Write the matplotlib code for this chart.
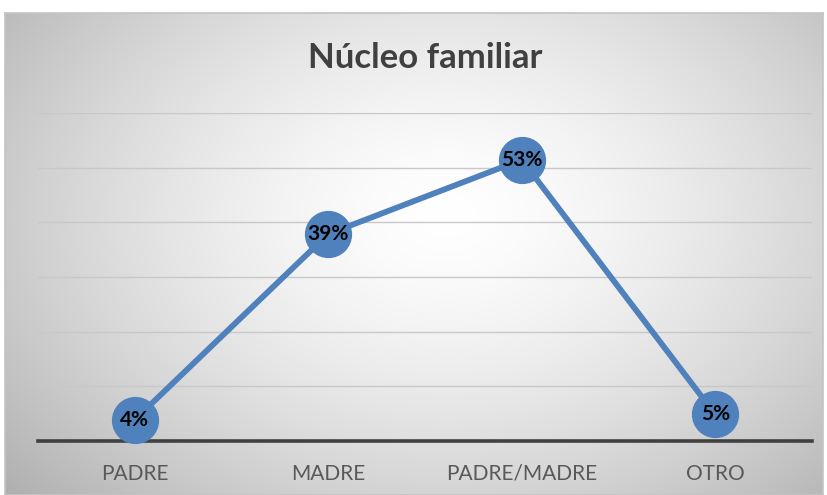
import numpy as np
import matplotlib
matplotlib.use("Agg")
import matplotlib.pyplot as plt

# data
categories = ["PADRE", "MADRE", "PADRE/MADRE", "OTRO"]
values = [4, 39, 53, 5]          # percent
labels = ["4%", "39%", "53%", "5%"]

W, H = 828, 495
fig = plt.figure(figsize=(W / 100, H / 100), dpi=100)
fig.patch.set_facecolor("white")

# chart area with radial gradient background
bg = fig.add_axes([5 / W, 0, 818 / W, (H - 13) / H])
yy, xx = np.mgrid[0:1:300j, 0:1:500j]
r = np.sqrt(((xx - 0.54) / 0.62) ** 2 + ((yy - 0.42) / 0.75) ** 2)
shade = 1.0 - 0.25 * np.clip(r, 0, 1.3) ** 1.5
img = np.dstack([shade, shade, shade])
bg.imshow(img, extent=[0, 1, 0, 1], aspect="auto", origin="upper")
bg.set_xticks([])
bg.set_yticks([])
for s in bg.spines.values():
    s.set_color("#c4c4c4")
    s.set_linewidth(1.2)

# plot area
ax = fig.add_axes([38 / W, (H - 441) / H, 774 / W, 328 / H])
ax.patch.set_alpha(0)
ymax = 61.8
x = np.arange(len(categories))
ax.set_xlim(-0.5, len(categories) - 0.5)
ax.set_ylim(0, ymax)
ax.set_yticks(np.linspace(0, ymax, 7))
ax.yaxis.grid(True, color="#c8c8c8", linewidth=1.0)
ax.set_axisbelow(True)
ax.tick_params(axis="y", left=False, labelleft=False)
ax.tick_params(axis="x", bottom=False, pad=13, labelsize=15, colors="#595959")
ax.set_xticks(x)
ax.set_xticklabels(categories, fontfamily="Lato")
for side in ["top", "right", "left"]:
    ax.spines[side].set_visible(False)
ax.spines["bottom"].set_color("#404040")
ax.spines["bottom"].set_linewidth(2.6)
ax.spines["bottom"].set_zorder(1)

ax.plot(x, values, color="#4f81bd", linewidth=4.2, marker="o",
        markersize=33, markerfacecolor="#4f81bd", markeredgecolor="#4f81bd",
        solid_capstyle="round", zorder=3, clip_on=False)
for xi, v, lab in zip(x, values, labels):
    ax.text(xi, v, lab, ha="center", va="center", fontsize=15,
            fontweight="bold", fontfamily="Lato", color="black", zorder=4)

fig.text(425 / W, 1 - 58 / H, "Núcleo familiar", ha="center", va="center",
         fontsize=25, fontweight="bold", fontfamily="Lato", color="#404040")

fig.savefig("out.png", dpi=100)
